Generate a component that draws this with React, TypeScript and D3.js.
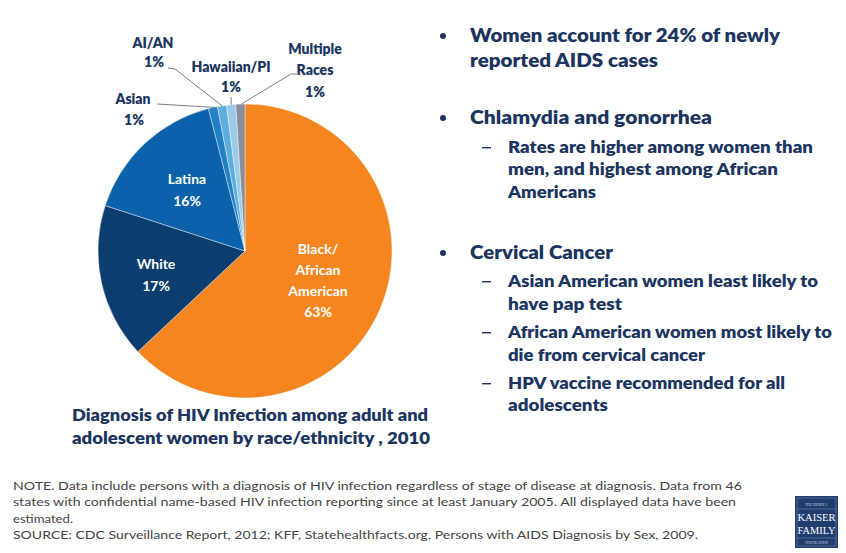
import React from "react";
import * as d3 from "d3";

const categories = ["Black/African American", "White", "Latina", "Asian", "AI/AN", "Hawaiian/PI", "Multiple Races"];
const values = [63, 17, 16, 1, 1, 1, 1];
const sliceColors = ["#F5861F", "#0C3D6F", "#0B62AA", "#2480C6", "#5EADDF", "#9CCAE9", "#8A8E9A"];

const insideLabels = [
  { idx: 0, lines: ["Black/", "African", "American", "63%"] },
  { idx: 1, lines: ["White", "17%"] },
  { idx: 2, lines: ["Latina", "16%"] },
];

const bulletLines = [
  { level: 0, text: "Women account for 24% of newly", bullet: true, w: 310 },
  { level: 0, text: "reported AIDS cases", bullet: false, w: 188 },
  { level: 0, text: "Chlamydia and gonorrhea", bullet: true, w: 242 },
  { level: 1, text: "Rates are higher among women than", bullet: true, w: 305 },
  { level: 1, text: "men, and highest among African", bullet: false, w: 270 },
  { level: 1, text: "Americans", bullet: false, w: 88 },
  { level: 0, text: "Cervical Cancer", bullet: true, w: 143 },
  { level: 1, text: "Asian American women least likely to", bullet: true, w: 310 },
  { level: 1, text: "have pap test", bullet: false, w: 114 },
  { level: 1, text: "African American women most likely to", bullet: true, w: 324 },
  { level: 1, text: "die from cervical cancer", bullet: false, w: 197 },
  { level: 1, text: "HPV vaccine recommended for all", bullet: true, w: 277 },
  { level: 1, text: "adolescents", bullet: false, w: 100 },
];
const bulletBaselines = [42, 67, 124, 153, 175, 198, 259, 287, 310, 338, 361, 389, 411];

const captionLines = ["Diagnosis of HIV Infection among adult and", "adolescent women by race/ethnicity , 2010"];

const noteLines = [
  { text: "NOTE. Data include persons with a diagnosis of HIV infection regardless of stage of disease at diagnosis. Data from 46", w: 729 },
  { text: "states with confidential name-based HIV infection reporting since at least January 2005. All displayed data have been", w: 723 },
  { text: "estimated.", w: 60 },
  { text: "SOURCE:  CDC Surveillance Report, 2012; KFF, Statehealthfacts.org, Persons with AIDS Diagnosis by Sex, 2009.", w: 685 },
];

const NAVY = "#1B355F";
const FONT = "Lato, 'Open Sans', sans-serif";

export default function App() {
  const W = 846, H = 553;
  const cx = 245, cy = 251, r = 147;

  const pie = d3.pie<number>().sort(null).value((d) => d);
  const arcs = pie(values);
  const arcGen = d3.arc<d3.PieArcDatum<number>>().innerRadius(0).outerRadius(r);
  const edgeArc = d3.arc<d3.PieArcDatum<number>>().innerRadius(r).outerRadius(r);
  const edge = (i: number) => {
    const [x, y] = edgeArc.centroid(arcs[i]);
    return [x + cx, y + cy];
  };

  const insidePos = [
    { x: 318, y: 254, dy: 21 },
    { x: 156, y: 269, dy: 22 },
    { x: 187, y: 184, dy: 22 },
  ];

  const eAsian = edge(3), eAian = edge(4), eHaw = edge(5), eMult = edge(6);

  return (
    <svg width={W} height={H} style={{ position: "absolute", left: 0, top: 0, background: "#fff" }} fontFamily={FONT}>
      <rect width={W} height={H} fill="#fff" />
      <g transform={`translate(${cx},${cy})`}>
        {arcs.map((a, i) => (
          <path key={categories[i]} d={arcGen(a) || ""} fill={sliceColors[i]} stroke="#ffffff" strokeWidth={0.4} />
        ))}
      </g>
      {insideLabels.map((l, k) => (
        <text key={k} textAnchor="middle" fill="#fff" fontWeight={700} fontSize={14}>
          {l.lines.map((t, j) => (
            <tspan key={j} x={insidePos[k].x} y={insidePos[k].y + j * insidePos[k].dy}>{t}</tspan>
          ))}
        </text>
      ))}
      {/* leader lines */}
      <g stroke="#808080" strokeWidth={1} fill="none">
        <polyline points={`157,104 ${eAsian[0] + 4},${eAsian[1]}`} />
        <polyline points={`168,68 175,69 ${eAian[0]},${eAian[1]}`} />
        <polyline points={`${eHaw[0]},97 ${eHaw[0]},${eHaw[1]}`} />
        <polyline points={`297,74 291,74 ${eMult[0] + 1},${eMult[1]}`} />
      </g>
      <g fill={NAVY} fontWeight={800} fontSize={14} textAnchor="middle">
        <text x={153} y={48}>AI/AN</text>
        <text x={154} y={67}>1%</text>
        <text x={231} y={72}>Hawaiian/PI</text>
        <text x={231} y={92}>1%</text>
        <text x={315} y={54}>Multiple</text>
        <text x={315} y={75}>Races</text>
        <text x={315} y={97}>1%</text>
        <text x={133} y={104}>Asian</text>
        <text x={134} y={125}>1%</text>
      </g>
      {/* caption */}
      <g fill={NAVY} fontWeight={800} fontSize={17}>
        <text x={72} y={421} textLength={356} lengthAdjust="spacingAndGlyphs">{captionLines[0]}</text>
        <text x={72} y={444} textLength={358} lengthAdjust="spacingAndGlyphs">{captionLines[1]}</text>
      </g>
      {/* bullets */}
      <g fill={NAVY} fontWeight={800}>
        {bulletLines.map((b, i) => {
          const y = bulletBaselines[i];
          const tx = b.level === 0 ? 470 : 508;
          return (
            <g key={i}>
              {b.bullet && b.level === 0 && <circle cx={443} cy={y - 6} r={3} fill={NAVY} />}
              {b.bullet && b.level === 1 && <rect x={482} y={y - 6} width={9} height={1.4} fill={NAVY} />}
              <text x={tx} y={y} fontSize={b.level === 0 ? 18 : 16} textLength={b.w} lengthAdjust="spacingAndGlyphs">{b.text}</text>
            </g>
          );
        })}
      </g>
      {/* notes */}
      <g fill="#444" fontSize={12}>
        {noteLines.map((n, i) => (
          <text key={i} x={13} y={490 + i * 16.3} textLength={n.w} lengthAdjust="spacingAndGlyphs">{n.text}</text>
        ))}
      </g>
      {/* logo */}
      <g>
        <rect x={795} y={496} width={43} height={52} fill="#1F3D6E" />
        <rect x={797} y={498} width={39} height={48} fill="none" stroke="#7f93b3" strokeWidth={0.5} />
        <line x1={797} y1={509} x2={836} y2={509} stroke="#7f93b3" strokeWidth={0.5} />
        <line x1={797} y1={538} x2={836} y2={538} stroke="#7f93b3" strokeWidth={0.5} />
        <text x={816.5} y={506} fill="#c9d3e3" fontSize={3.5} textAnchor="middle" fontFamily="'Liberation Serif', serif">THE HENRY J.</text>
        <text x={816.5} y={521} fill="#fff" fontSize={10.5} textAnchor="middle" fontFamily="'Liberation Serif', serif" textLength={38} lengthAdjust="spacingAndGlyphs">KAISER</text>
        <text x={816.5} y={534} fill="#fff" fontSize={10.5} textAnchor="middle" fontFamily="'Liberation Serif', serif" textLength={38} lengthAdjust="spacingAndGlyphs">FAMILY</text>
        <text x={816.5} y={544} fill="#c9d3e3" fontSize={3.5} textAnchor="middle" fontFamily="'Liberation Serif', serif">FOUNDATION</text>
      </g>
    </svg>
  );
}
